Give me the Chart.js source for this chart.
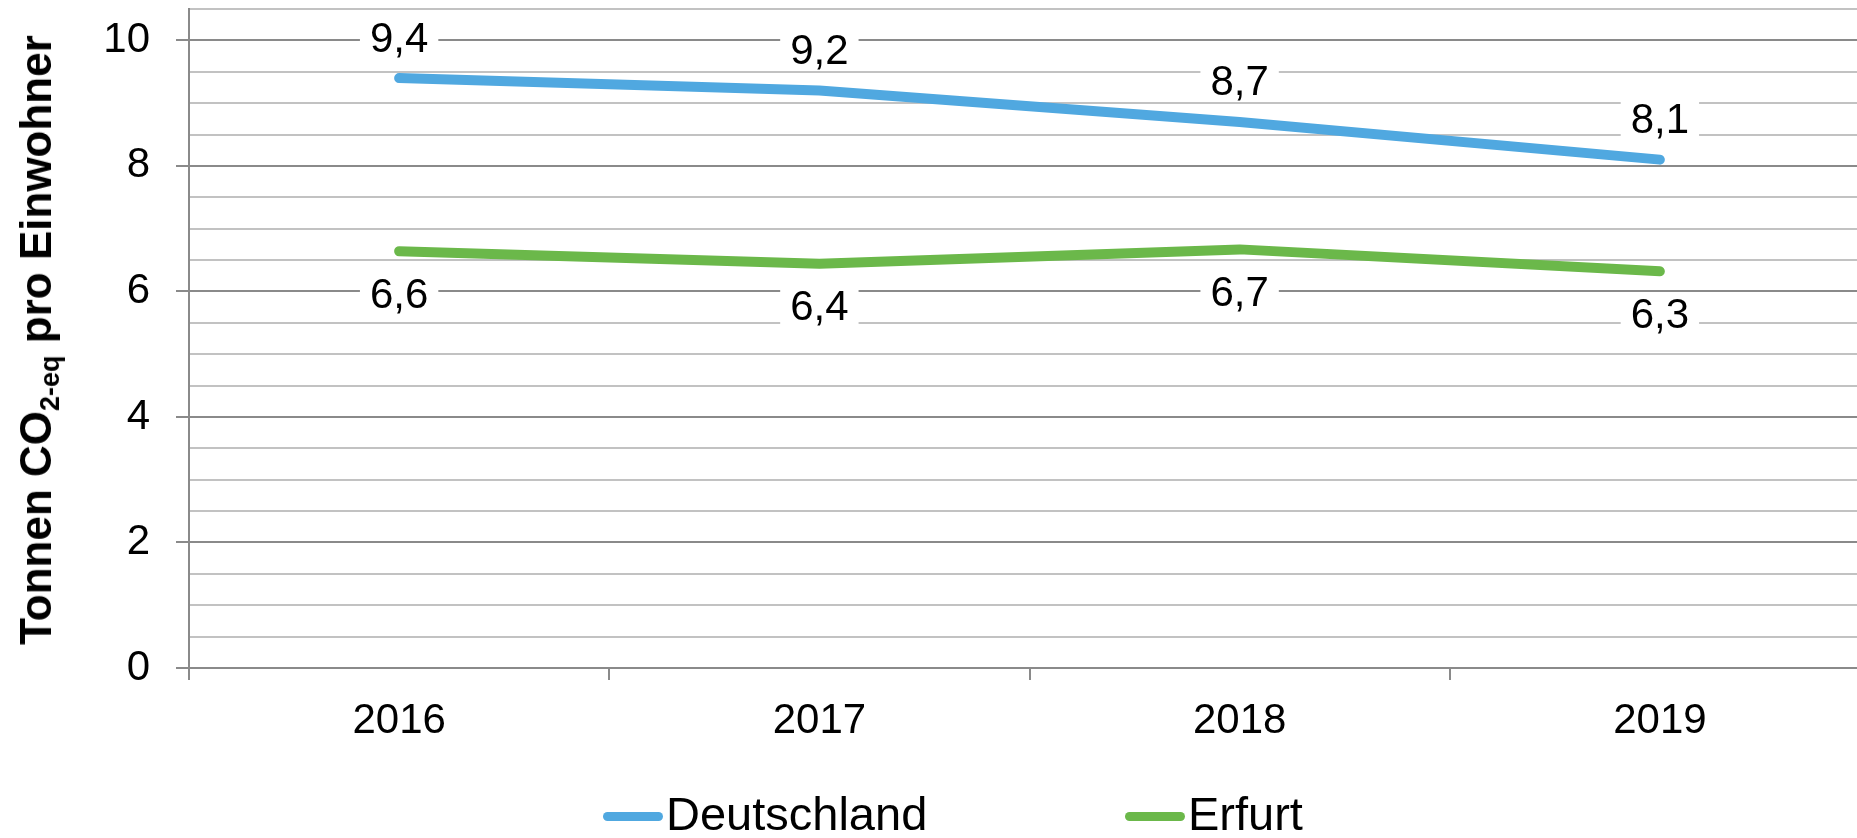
<!DOCTYPE html>
<html>
<head>
<meta charset="utf-8">
<script src="https://cdn.jsdelivr.net/npm/chart.js@4"></script>
<style>
  html, body { margin: 0; padding: 0; background: #fff; overflow: hidden; }
  body { width: 1857px; height: 838px; position: relative; font-family: "Liberation Sans", Arial, sans-serif; }
  #wrap { position: absolute; left: 0; top: 0; width: 1872px; height: 838px; }
  #ytitle {
    position: absolute; left: 36px; top: 340px;
    transform: translate(-50%, -50%) rotate(-90deg);
    white-space: nowrap; font-weight: bold; font-size: 44px; color: #000;
  }
  #ytitle sub { font-size: 27px; vertical-align: -8px; line-height: 0; }
  .lg-line { position: absolute; height: 9px; border-radius: 5px; top: 812px; }
  .lg-text { position: absolute; top: 790px; font-size: 47px; line-height: 47px; color: #000; white-space: nowrap; }
</style>
</head>
<body>
<div id="wrap"><canvas id="chart"></canvas></div>
<div id="ytitle">Tonnen CO<sub>2-eq</sub> pro Einwohner</div>
<div class="lg-line" style="left:603px;width:60px;background:#50a8e0"></div>
<div class="lg-text" style="left:666px">Deutschland</div>
<div class="lg-line" style="left:1125px;width:60px;background:#6bb84a"></div>
<div class="lg-text" style="left:1188px">Erfurt</div>
<script>
const years = ["2016", "2017", "2018", "2019"];
const deutschland = [9.4, 9.2, 8.7, 8.1];
const erfurt = [6.64, 6.44, 6.67, 6.32];
const seriesNames = ["Deutschland", "Erfurt"];

const blue = "#50a8e0";
const green = "#6bb84a";
const majorGrid = "#8a8a8a";
const minorGrid = "#c2c2c2";
const fontFam = "'Liberation Sans', Arial, sans-serif";

// value labels: first series above the line, second below
const valueLabels = {
  id: "valueLabels",
  afterDatasetsDraw(chart) {
    const ctx = chart.ctx;
    ctx.save();
    ctx.font = "42px " + fontFam;
    ctx.textAlign = "center";
    ctx.textBaseline = "alphabetic";
    chart.data.datasets.forEach((ds, i) => {
      const meta = chart.getDatasetMeta(i);
      meta.data.forEach((pt, j) => {
        const txt = ds.data[j].toFixed(1).replace(".", ",");
        const cy = i === 0 ? pt.y - 41.5 : pt.y + 41.5;
        const w = ctx.measureText(txt).width + 20;
        ctx.fillStyle = "#fff";
        ctx.fillRect(pt.x - w / 2, cy - 19, w, 38);
        ctx.fillStyle = "#000";
        ctx.fillText(txt, pt.x, cy + 15);
      });
    });
    ctx.restore();
  }
};

new Chart(document.getElementById("chart"), {
  type: "line",
  data: {
    labels: years,
    datasets: [
      { label: seriesNames[0], data: deutschland, borderColor: blue, backgroundColor: blue },
      { label: seriesNames[1], data: erfurt, borderColor: green, backgroundColor: green }
    ]
  },
  options: {
    responsive: true,
    maintainAspectRatio: false,
    animation: false,
    layout: { padding: { top: 9, right: 2, bottom: 80, left: 0 } },
    elements: {
      line: { borderWidth: 10, borderCapStyle: "round", borderJoinStyle: "round", tension: 0 },
      point: { radius: 0, hoverRadius: 0 }
    },
    plugins: { legend: { display: false }, tooltip: { enabled: false } },
    scales: {
      x: {
        offset: true,
        grid: { offset: true, drawOnChartArea: false, drawTicks: true, tickLength: 12, color: majorGrid, lineWidth: 2 },
        border: { display: true, color: majorGrid, width: 2 },
        ticks: { color: "#000", padding: 16, maxRotation: 0, font: { family: fontFam, size: 42 } },
        afterFit(scale) {
          scale.height = 90;
          scale.paddingLeft = 0;
          scale.paddingRight = 0;
        }
      },
      y: {
        min: 0,
        max: 10.5,
        grid: {
          color: c => (c.tick && c.tick.value % 2 === 0 ? majorGrid : minorGrid),
          tickColor: c => (c.tick && c.tick.value % 2 === 0 ? majorGrid : "rgba(0,0,0,0)"),
          lineWidth: 2,
          tickLength: 13
        },
        border: { display: true, color: majorGrid, width: 2 },
        ticks: {
          stepSize: 0.5,
          autoSkip: false,
          padding: 26,
          color: "#000",
          font: { family: fontFam, size: 42 },
          callback: v => (v % 2 === 0 ? String(v) : "")
        },
        afterFit(scale) {
          scale.width = 189;
          scale.paddingTop = 0;
          scale.paddingBottom = 0;
        }
      }
    }
  },
  plugins: [valueLabels]
});
</script>
</body>
</html>
